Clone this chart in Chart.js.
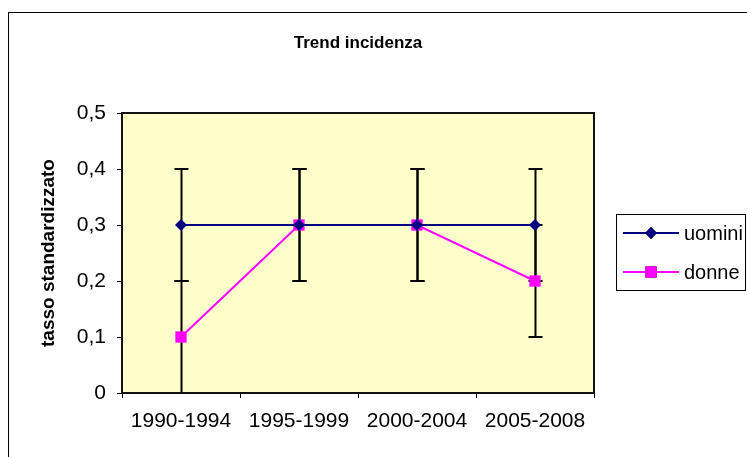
<!DOCTYPE html>
<html>
<head>
<meta charset="utf-8">
<script src="https://cdn.jsdelivr.net/npm/chart.js@4/dist/chart.umd.min.js"></script>
<style>
  body { margin: 0; background: #fff; }
  canvas { display: block; }
</style>
</head>
<body>
<canvas id="trendChart" width="747" height="457"></canvas>
<script>
// data
const categories = ["1990-1994", "1995-1999", "2000-2004", "2005-2008"];
const uomini = [0.3, 0.3, 0.3, 0.3];
const donne = [0.1, 0.3, 0.3, 0.2];
const uominiErr = [0.1, 0.1, 0.1, 0.1];
const donneErr = [0.1, 0.1, 0.1, 0.1];
const yTickLabels = ["0", "0,1", "0,2", "0,3", "0,4", "0,5"];

const FONT = "'Liberation Sans', Arial, sans-serif";

// Excel-ish frame, plot area, error bars, title and legend
const excelLook = {
    id: "excelLook",
    beforeDraw(chart) {
        const ctx = chart.ctx;
        const a = chart.chartArea;
        ctx.save();
        ctx.fillStyle = "#fff";
        ctx.fillRect(0, 0, chart.width, chart.height);
        ctx.strokeStyle = "#000";
        ctx.lineWidth = 1;
        ctx.strokeRect(8.5, 12.5, chart.width + 10, chart.height + 10);
        ctx.fillStyle = "#FFFFCC";
        ctx.fillRect(a.left, a.top, a.right - a.left, a.bottom - a.top);
        ctx.restore();
    },
    beforeDatasetsDraw(chart) {
        const ctx = chart.ctx;
        const x = chart.scales.x;
        const y = chart.scales.y;
        const errs = [uominiErr, donneErr];
        ctx.save();
        ctx.strokeStyle = "#000";
        ctx.lineWidth = 2;
        chart.data.datasets.forEach((ds, d) => {
            ds.data.forEach((v, i) => {
                const px = Math.round(x.getPixelForValue(i)) + 0.5;
                const lo = y.getPixelForValue(v - errs[d][i]);
                const hi = y.getPixelForValue(v + errs[d][i]);
                ctx.beginPath();
                ctx.moveTo(px, lo);
                ctx.lineTo(px, hi);
                ctx.moveTo(px - 7, lo);
                ctx.lineTo(px + 7, lo);
                ctx.moveTo(px - 7, hi);
                ctx.lineTo(px + 7, hi);
                ctx.stroke();
            });
        });
        ctx.restore();
    },
    afterDraw(chart) {
        const ctx = chart.ctx;
        const a = chart.chartArea;
        ctx.save();
        // plot area border
        ctx.strokeStyle = "#111";
        ctx.lineWidth = 2;
        ctx.strokeRect(a.left, a.top, a.right - a.left, a.bottom - a.top);

        // title
        ctx.fillStyle = "#000";
        ctx.font = "bold 17px " + FONT;
        ctx.textAlign = "center";
        ctx.textBaseline = "middle";
        ctx.fillText("Trend incidenza", (a.left + a.right) / 2, 43);

        // legend
        ctx.lineWidth = 1;
        ctx.strokeStyle = "#000";
        ctx.strokeRect(616.5, 214.5, 129, 76);
        ctx.font = "20px " + FONT;
        ctx.textAlign = "left";
        const rows = [233, 272];
        chart.data.datasets.forEach((ds, d) => {
            const yy = rows[d];
            ctx.strokeStyle = ds.borderColor;
            ctx.lineWidth = 2;
            ctx.beginPath();
            ctx.moveTo(623, yy);
            ctx.lineTo(679, yy);
            ctx.stroke();
            Chart.helpers.drawPoint(ctx, {
                pointStyle: ds.pointStyle,
                radius: ds.pointRadius,
                borderWidth: 0
            }, 651, yy);
            ctx.fillStyle = ds.pointBackgroundColor;
            ctx.fill();
            ctx.fillStyle = "#000";
            ctx.fillText(ds.label, 684, yy + 1);
        });
        ctx.restore();
    }
};

new Chart(document.getElementById("trendChart"), {
    type: "line",
    data: {
        labels: categories,
        datasets: [
            {
                label: "uomini",
                data: uomini,
                borderColor: "#000080",
                borderWidth: 2,
                pointStyle: "rectRot",
                pointRadius: 6,
                pointBackgroundColor: "#000080",
                pointBorderColor: "#000080",
                pointBorderWidth: 0,
                tension: 0
            },
            {
                label: "donne",
                data: donne,
                borderColor: "#FF00FF",
                borderWidth: 2,
                pointStyle: "rect",
                pointRadius: 8,
                pointBackgroundColor: "#FF00FF",
                pointBorderColor: "#FF00FF",
                pointBorderWidth: 0,
                tension: 0
            }
        ]
    },
    options: {
        responsive: false,
        animation: false,
        layout: {
            padding: { left: 0, top: 113, right: 153, bottom: 0 }
        },
        plugins: {
            legend: { display: false },
            title: { display: false },
            tooltip: { enabled: false }
        },
        scales: {
            x: {
                offset: true,
                afterFit: s => { s.height = 64; },
                border: { display: false },
                grid: {
                    offset: true,
                    drawOnChartArea: false,
                    drawTicks: true,
                    tickLength: 5,
                    tickColor: "#000",
                    lineWidth: 1
                },
                ticks: {
                    color: "#000",
                    padding: 11,
                    maxRotation: 0,
                    font: { family: FONT, size: 21 }
                }
            },
            y: {
                min: 0,
                max: 0.5,
                afterFit: s => { s.width = 122; },
                border: { display: false },
                grid: {
                    drawOnChartArea: false,
                    drawTicks: true,
                    tickLength: 5,
                    tickColor: "#000",
                    lineWidth: 1
                },
                ticks: {
                    stepSize: 0.1,
                    color: "#000",
                    padding: 11,
                    font: { family: FONT, size: 21 },
                    callback: (v, i) => yTickLabels[i]
                },
                title: {
                    display: true,
                    text: "tasso standardizzato",
                    color: "#000",
                    padding: { top: 37, bottom: 0 },
                    font: { family: FONT, size: 19, weight: "bold" }
                }
            }
        }
    },
    plugins: [excelLook]
});
</script>
</body>
</html>
